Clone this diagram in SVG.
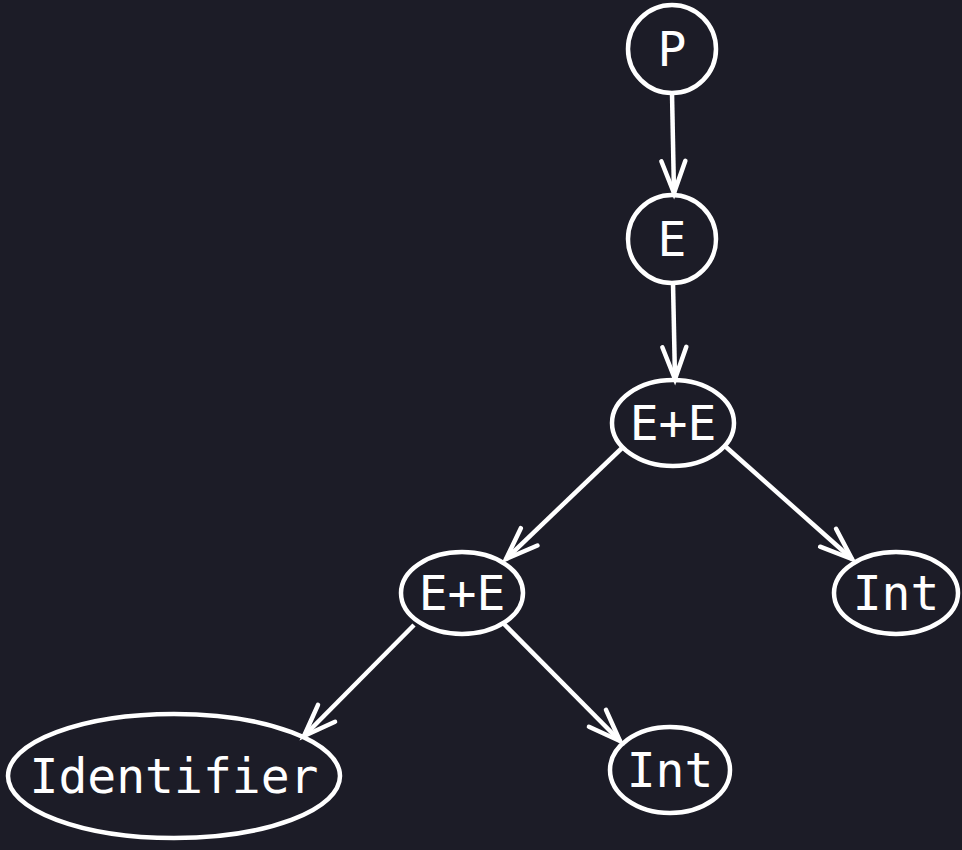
<svg xmlns="http://www.w3.org/2000/svg" width="962" height="850" viewBox="0 0 962 850">
<defs>
<style>
.n{fill:none;stroke:#ffffff;stroke-width:4.5}
.t{fill:#ffffff;font-family:"DejaVu Sans Mono","Liberation Mono",monospace;font-size:48px;text-anchor:middle;dominant-baseline:central}
.e{fill:none;stroke:#ffffff;stroke-width:4.5;marker-end:url(#a)}
</style>
<marker id="a" markerUnits="userSpaceOnUse" viewBox="-40 -20 50 40" markerWidth="50" markerHeight="40" refX="0" refY="0" orient="auto">
<path d="M-32,-12 L0,0 L-32,12" fill="none" stroke="#ffffff" stroke-width="4.5" stroke-linecap="round" stroke-linejoin="miter"/>
</marker>
</defs>
<rect width="962" height="850" fill="#1c1c27"/>
<g id="edges">
<line class="e" x1="672" y1="93" x2="674" y2="193"/>
<line class="e" x1="673" y1="283" x2="675" y2="379"/>
<line class="e" x1="622" y1="448" x2="506" y2="559"/>
<line class="e" x1="726" y1="447" x2="852" y2="559"/>
<line class="e" x1="414" y1="625" x2="304" y2="736"/>
<line class="e" x1="504" y1="624" x2="620" y2="741"/>
</g>
<g id="P"><circle class="n" cx="672" cy="49" r="44"/><text class="t" x="672" y="49">P</text></g>
<g id="E"><circle class="n" cx="672" cy="239" r="44"/><text class="t" x="672" y="239">E</text></g>
<g id="EE1"><ellipse class="n" cx="673" cy="423" rx="61" ry="43"/><text class="t" x="673" y="423">E+E</text></g>
<g id="EE2"><ellipse class="n" cx="462" cy="593" rx="61" ry="41"/><text class="t" x="462" y="593">E+E</text></g>
<g id="Int1"><ellipse class="n" cx="896" cy="593" rx="62" ry="41"/><text class="t" x="896" y="593">Int</text></g>
<g id="Identifier"><ellipse class="n" cx="174" cy="776" rx="166" ry="62"/><text class="t" x="174" y="776">Identifier</text></g>
<g id="Int2"><ellipse class="n" cx="670" cy="770" rx="60" ry="43"/><text class="t" x="670" y="770">Int</text></g>
</svg>
